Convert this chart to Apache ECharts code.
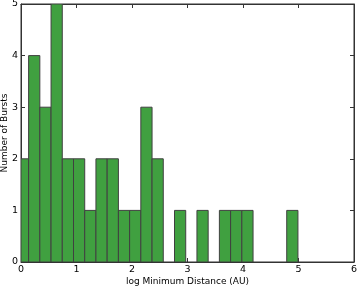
<!DOCTYPE html>
<html><head><meta charset="utf-8">
<script src="https://cdn.jsdelivr.net/npm/echarts@6/dist/echarts.min.js"></script>
<style>html,body{margin:0;padding:0;background:#fff}#c{width:357px;height:287px}</style>
</head><body><div id="c"></div>
<script>
const binStart = -0.065;
const binWidth = 0.2022;
const counts = [2,4,3,5,2,2,1,2,2,1,1,3,2,0,1,0,1,0,1,1,1,0,0,0,1];
const xTicks = [0,1,2,3,4,5,6];
const yTicks = [0,1,2,3,4,5];

const data = counts.map((c,i)=>[binStart+i*binWidth, binStart+(i+1)*binWidth, c]).filter(d=>d[2]>0);
const font = 'DejaVu Sans';
const chart = echarts.init(document.getElementById('c'));
const tickCommon = {show:true, inside:true, length:4, lineStyle:{color:'#333', width:1}};
const lineCommon = {show:true, onZero:false, lineStyle:{color:'#333', width:1}};
chart.setOption({
  animation:false,
  grid:{left:21, right:3, top:4, bottom:25, containLabel:false, outerBoundsMode:'none',
        show:true, borderColor:'#333', borderWidth:1, backgroundColor:'transparent'},
  xAxis:[{
    type:'value', min:0, max:6, interval:1, position:'bottom',
    name:'log Minimum Distance (AU)', nameLocation:'middle', nameGap:15, nameMoveOverlap:false,
    nameTextStyle:{fontFamily:font, fontSize:9, color:'#000'},
    axisLine:lineCommon, axisTick:tickCommon, splitLine:{show:false},
    axisLabel:{fontFamily:font, fontSize:9.5, color:'#000', margin:3}
  },{
    type:'value', min:0, max:6, interval:1, position:'top', show:true,
    axisLine:lineCommon, axisTick:tickCommon, splitLine:{show:false}, axisLabel:{show:false}
  }],
  yAxis:[{
    type:'value', min:0, max:5, interval:1, position:'left',
    name:'Number of Bursts', nameLocation:'middle', nameGap:12, nameMoveOverlap:false,
    nameTextStyle:{fontFamily:font, fontSize:9, color:'#000'},
    axisLine:lineCommon, axisTick:tickCommon, splitLine:{show:false},
    axisLabel:{fontFamily:font, fontSize:9.5, color:'#000', margin:3}
  },{
    type:'value', min:0, max:5, interval:1, position:'right', show:true,
    axisLine:lineCommon, axisTick:tickCommon, splitLine:{show:false}, axisLabel:{show:false}
  }],
  series:[{
    type:'custom', clip:true, xAxisIndex:0, yAxisIndex:0,
    data:data,
    encode:{x:[0,1], y:2},
    renderItem:function(params, api){
      const p0 = api.coord([api.value(0), api.value(2)]);
      const p1 = api.coord([api.value(1), 0]);
      const rect = {x:p0[0], y:p0[1], width:p1[0]-p0[0], height:p1[1]-p0[1]};
      const clipped = echarts.graphic.clipRectByRect(rect, {
        x:params.coordSys.x, y:params.coordSys.y, width:params.coordSys.width, height:params.coordSys.height});
      return clipped && {type:'rect', shape:clipped, style:{fill:'#40a040', stroke:'#404040', lineWidth:1}};
    }
  },{
    type:'line', xAxisIndex:1, yAxisIndex:1, data:[[0,0]], silent:true, showSymbol:false,
    lineStyle:{opacity:0}
  }]
});
</script></body></html>
